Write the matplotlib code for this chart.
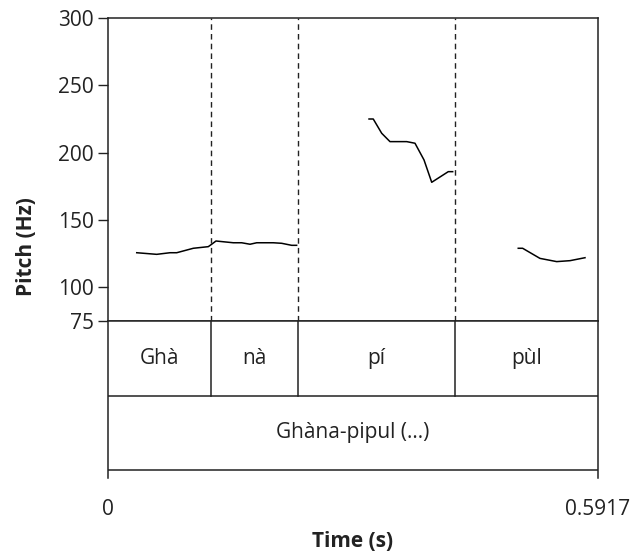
import matplotlib
matplotlib.use("Agg")
import matplotlib.pyplot as plt

plt.rcParams['font.family'] = ['Open Sans', 'DejaVu Sans']

# pitch tracks (time in s, pitch in Hz), one per voiced stretch
t1 = [0.0347, 0.0588, 0.0749, 0.0830, 0.1030, 0.1211, 0.1252, 0.1304, 0.1513,
      0.1614, 0.1715, 0.1796, 0.1996, 0.2097, 0.2218, 0.2278]
f1 = [125.7, 124.5, 125.7, 125.7, 129.0, 130.2, 132.0, 134.4, 133.1,
      133.1, 132.0, 133.1, 133.1, 132.7, 131.2, 131.2]
t2 = [0.3152, 0.3203, 0.3305, 0.3405, 0.3607, 0.3707, 0.3816, 0.3909, 0.4109, 0.4162]
f2 = [225.0, 225.0, 214.4, 208.2, 208.2, 207.0, 194.6, 178.0, 185.9, 185.9]
t3 = [0.4954, 0.5007, 0.5216, 0.5418, 0.5579, 0.5760]
f3 = [129.0, 129.0, 121.5, 119.1, 119.8, 122.0]

t_end = 0.5917
boundaries = [0.1244, 0.2294, 0.4190]
syllables = ["Ghà", "nà", "pí", "pùl"]
word = "Ghàna-pipul (…)"
yticks = [75, 100, 150, 200, 250, 300]

W, H = 633, 555
fig = plt.figure(figsize=(W / 100, H / 100), dpi=100)

def box(x0, y0, x1, y1):
    return [x0 / W, 1 - y1 / H, (x1 - x0) / W, (y1 - y0) / H]

ink = '#222222'
fs = 15

ax = fig.add_axes(box(108, 18, 598, 321))
for tt, ff in [(t1, f1), (t2, f2), (t3, f3)]:
    ax.plot(tt, ff, color='black', lw=1.1)
for b in boundaries:
    ax.axvline(b, color=ink, lw=1.0, ls=(0, (4, 3)))
ax.set_xlim(0, t_end)
ax.set_ylim(75, 300)
ax.set_yticks(yticks)
ax.set_xticks([])
ax.tick_params(axis='y', direction='out', length=7, width=1, pad=3,
               labelsize=fs, colors=ink)
for s in ax.spines.values():
    s.set_color(ink)
    s.set_linewidth(1.1)

tx = fig.add_axes(box(108, 321, 598, 478))
tx.set_xlim(0, t_end)
tx.set_ylim(-8 / 75, 2)
tx.axhline(1, color=ink, lw=1.1)
tx.axhline(0, color=ink, lw=1.1)
for b in boundaries:
    tx.plot([b, b], [1, 2], color=ink, lw=1.1)
edges = [0] + boundaries + [t_end]
for i, s in enumerate(syllables):
    tx.text((edges[i] + edges[i + 1]) / 2, 1.5, s, ha='center', va='center',
            fontsize=fs, color=ink)
tx.text(t_end / 2, 0.5, word, ha='center', va='center', fontsize=fs, color=ink)
tx.spines['bottom'].set_visible(False)
for s in ['left', 'right', 'top']:
    tx.spines[s].set_color(ink)
    tx.spines[s].set_linewidth(1.1)
tx.set_yticks([])
tx.set_xticks([0, t_end])
tx.set_xticklabels(["0", "0.5917"])
tx.tick_params(axis='x', length=0, pad=15, labelsize=fs, colors=ink)
tx.set_xlabel("Time (s)", fontsize=fs, fontweight='bold', labelpad=8, color=ink)

fig.text(27 / W, 1 - 247 / H, "Pitch (Hz)", rotation=90, ha='center', va='center',
         fontsize=fs, fontweight='bold', color=ink)

fig.savefig("out.png", dpi=100)
